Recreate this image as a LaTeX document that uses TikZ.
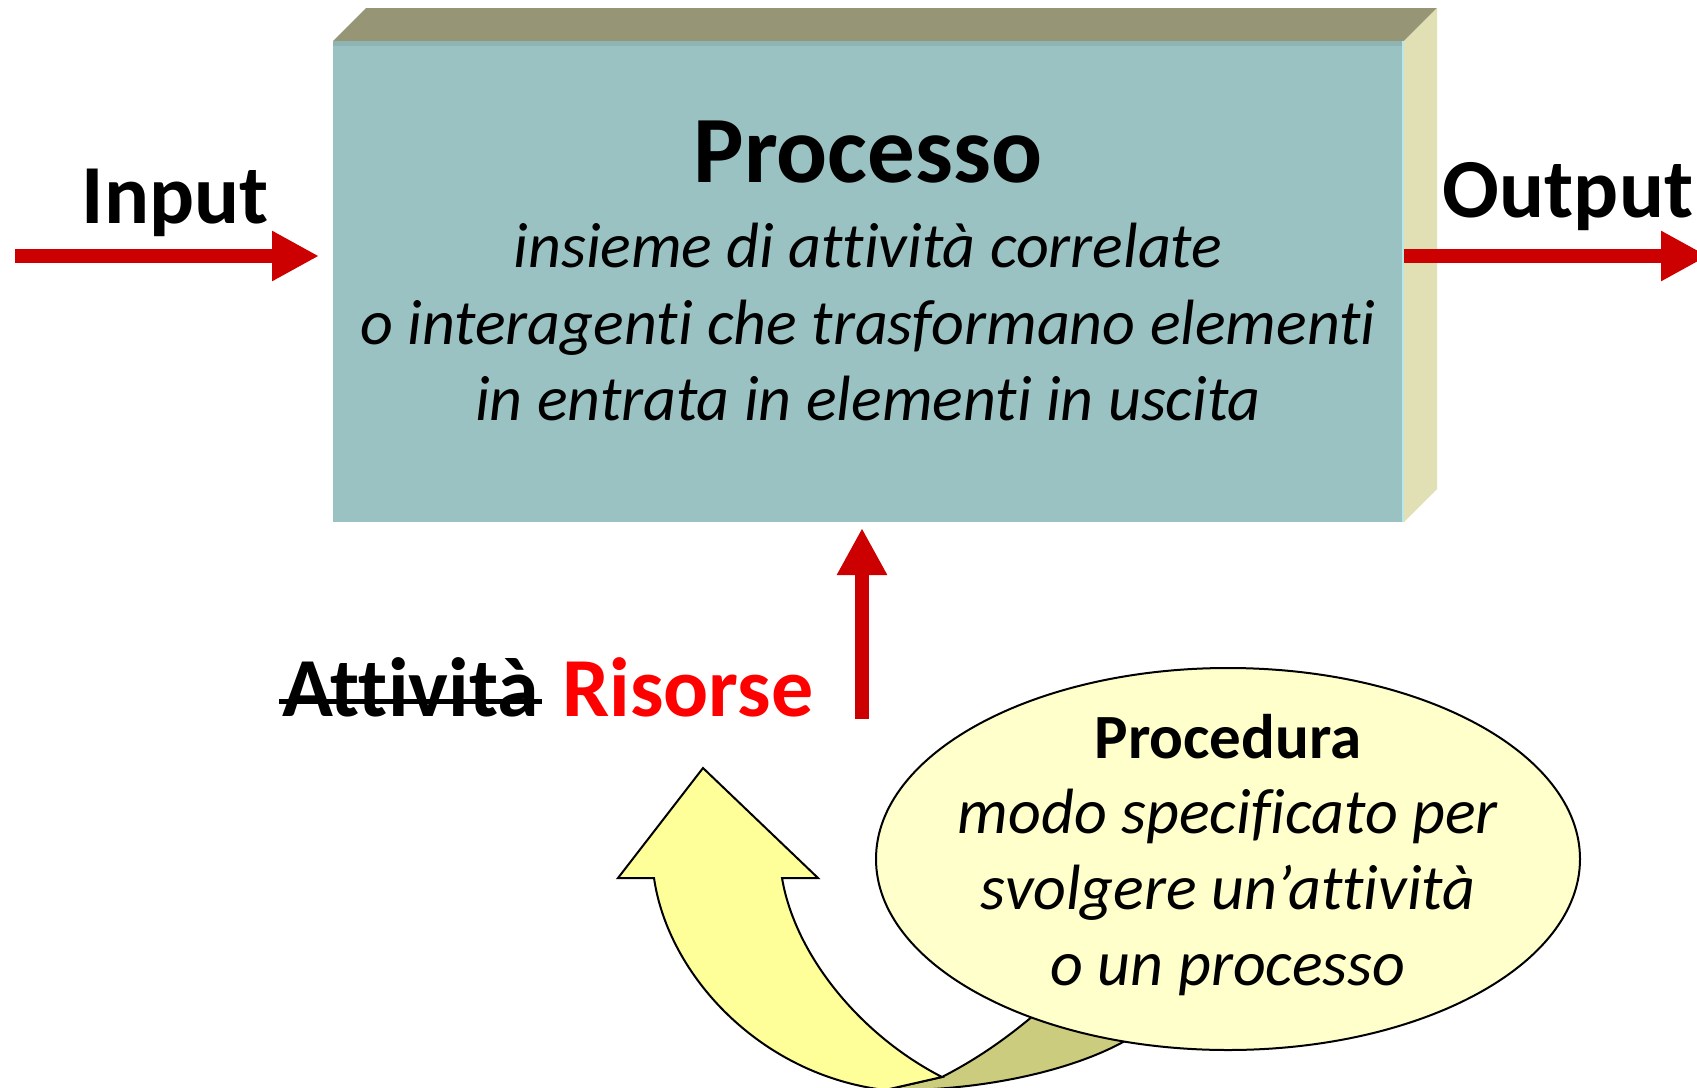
\documentclass[tikz,border=0pt]{standalone}
\usepackage{fontspec}
\setmainfont[Ligatures=NoCommon]{Carlito}
\usetikzlibrary{arrows.meta,shapes.geometric}
\definecolor{topface}{HTML}{969676}
\definecolor{sideface}{HTML}{E0E0B4}
\definecolor{frontface}{HTML}{9BC2C2}
\definecolor{frontedge}{HTML}{8FB4B4}
\definecolor{frontrim}{HTML}{B8E8E8}
\definecolor{arrowred}{HTML}{CC0000}
\definecolor{risred}{HTML}{FF0000}
\definecolor{bubblefill}{HTML}{FFFFCC}
\definecolor{frontband}{HTML}{FFFF99}
\definecolor{backband}{HTML}{CCCC7F}
\begin{document}
\begin{tikzpicture}[x=1pt,y=-1pt,
    face/.style={inner sep=0pt,outer sep=0pt},
    redarrow/.style={draw=arrowred,line width=14pt,-{Triangle[length=47pt,width=47pt]}},
    bigword/.style={inner sep=0pt,anchor=base,font=\fontsize{84}{100}\selectfont\bfseries},
    title/.style={inner sep=0pt,anchor=base,font=\fontsize{95}{114}\selectfont\bfseries},
    desc/.style={inner sep=0pt,anchor=base,font=\fontsize{64}{76}\selectfont\itshape},
    bubble/.style={ellipse,draw,line width=2pt,fill=bubblefill,inner sep=0pt,
      minimum width=704pt,minimum height=382pt}]
  \useasboundingbox (0,0) rectangle (1697,1087);
  % the process block
  \fill[topface] (333,41) -- (366,8) -- (1437,8) -- (1404,41) -- cycle;
  \fill[sideface] (1404,41) -- (1437,8) -- (1437,489) -- (1404,522) -- cycle;
  \node[face,fill=frontface,minimum width=1071pt,minimum height=481pt] (proc) at (868.5,281.5) {};
  \fill[frontedge] (proc.north west) rectangle ([yshift=-5pt]proc.north east);
  \draw[line width=2pt,frontrim] ([xshift=-1pt]proc.north east) -- ([xshift=-1pt]proc.south east);
  \draw
    (868,182) node[title] (ptitle){Processo}
    (868,267) node[desc] (pline1){insieme di attività correlate}
    (868,344) node[desc] (pline2){o interagenti che trasformano elementi}
    (868,420) node[desc] (pline3){in entrata in elementi in uscita}
    (175,223) node[bigword] (inlabel){Input}
    (1568,217) node[bigword] (outlabel){Output}
    (539,716) node[bigword,anchor=base east] (attlabel){Attività}
    (562,716) node[bigword,anchor=base west,text=risred] (reslabel){Risorse};
  % struck-out word
  \draw[line width=5pt] ([xshift=-3pt,yshift=15pt]attlabel.base west) -- ([xshift=3pt,yshift=15pt]attlabel.base east);
  \coordinate (in0) at (15,256);
  \coordinate (out1) at (1708,256);
  \coordinate (res0) at (862,719);
  \begin{scope}[redarrow]
    \draw[shorten >=14pt] (in0) to (in0 -| proc.west);
    \draw (in0 -| proc.east) to (out1);
    \draw[shorten >=6pt] (res0) to (res0 |- proc.south);
  \end{scope}
  % curved arrow coming out of the procedure
  \draw[line width=2pt,fill=backband] (885,1090) .. controls (980,1092) and (1080,1070) .. (1135,1035)
    -- (1040,1010) .. controls (1005,1040) and (975,1060) .. (942,1077) -- cycle;
  \draw[line width=2pt,fill=frontband] (654,878) -- (618,878) -- (703,768) -- (818,878) -- (782,878)
    .. controls (795,955) and (860,1035) .. (942,1077) -- (885,1090)
    .. controls (760,1075) and (668,975) .. (654,878) -- cycle;
  \node[bubble] (proced) at (1228,859) {};
  \draw
    (1228,758) node[desc,font=\fontsize{63}{76}\selectfont\bfseries] (pdtitle){Procedura}
    (1228,833) node[desc] (pdline1){modo specificato per}
    (1228,909) node[desc] (pdline2){svolgere un’attività}
    (1228,985) node[desc] (pdline3){o un processo};
\end{tikzpicture}
\end{document}
